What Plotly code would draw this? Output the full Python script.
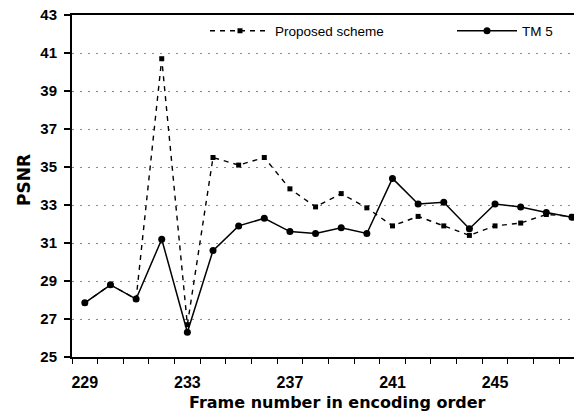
import plotly.graph_objects as go

frames = list(range(229, 249))
proposed = [27.85, 28.8, 28.05, 40.7, 26.7, 35.5, 35.1, 35.5, 33.85, 32.9,
            33.6, 32.85, 31.9, 32.4, 31.9, 31.4, 31.9, 32.05, 32.5, 32.4]
tm5 = [27.85, 28.8, 28.05, 31.2, 26.3, 30.6, 31.9, 32.3, 31.6, 31.5,
       31.8, 31.5, 34.4, 33.05, 33.15, 31.75, 33.05, 32.9, 32.6, 32.35]
x_tick_labels = [229, 233, 237, 241, 245]
y_ticks = list(range(25, 44, 2))

W, H = 574, 412
ML, MR, MT, MB = 72, 0, 15, 55
pw = W - ML - MR
ph = H - MT - MB

fig = go.Figure()
fig.add_trace(go.Scatter(
    x=frames, y=proposed, name="Proposed scheme", mode="lines+markers",
    line=dict(color="black", width=1.4, dash="5px,5px"),
    marker=dict(symbol="square", size=5, color="black"),
    legend="legend"))
fig.add_trace(go.Scatter(
    x=frames, y=tm5, name="TM 5", mode="lines+markers",
    line=dict(color="black", width=1.5),
    marker=dict(symbol="circle", size=7, color="black"),
    legend="legend2"))

leg_font = dict(family="Liberation Sans", size=13.5, color="black")
fig.update_layout(
    width=W, height=H,
    margin=dict(l=ML, r=MR, t=MT, b=MB, autoexpand=False),
    paper_bgcolor="white", plot_bgcolor="white",
    showlegend=True,
    legend=dict(x=(205 - ML) / pw, y=(H - MB - 31) / ph, xanchor="left", yanchor="middle",
                orientation="h", itemwidth=60, font=leg_font, bgcolor="rgba(0,0,0,0)"),
    legend2=dict(x=(452 - ML) / pw, y=(H - MB - 31) / ph, xanchor="left", yanchor="middle",
                 orientation="h", itemwidth=60, font=leg_font, bgcolor="rgba(0,0,0,0)"),
    xaxis=dict(
        range=[228.5, 248.08], showgrid=False, zeroline=False, automargin=False,
        showline=True, linecolor="black", linewidth=2, mirror=True,
        tickmode="array", tickvals=x_tick_labels, ticktext=[str(v) for v in x_tick_labels],
        ticks="", ticklabelstandoff=10,
        tickfont=dict(family="Liberation Sans", size=16, color="black", weight="bold"),
        minor=dict(tickmode="linear", tick0=228.5, dtick=1, ticks="outside",
                   ticklen=5, tickwidth=1, tickcolor="black", showgrid=False),
    ),
    yaxis=dict(
        range=[25, 43], tickmode="array", tickvals=y_ticks, automargin=False,
        showgrid=True, gridcolor="#8a8a8a", gridwidth=1, griddash="2px,6px",
        zeroline=False, showline=True, linecolor="black", linewidth=2, mirror=False,
        ticks="outside", ticklen=6, tickwidth=1.5, tickcolor="black",
        ticklabelstandoff=4,
        tickfont=dict(family="Liberation Sans", size=15, color="black", weight="bold"),
    ),
    annotations=[
        dict(text="Frame number in encoding order", xref="paper", yref="paper",
             x=(337 - ML) / pw, y=(H - MB - 402) / ph, xanchor="center", yanchor="middle",
             showarrow=False,
             font=dict(family="DejaVu Sans", size=16, color="black", weight="bold")),
        dict(text="PSNR", xref="paper", yref="paper", textangle=-90,
             x=(24 - ML) / pw, y=(H - MB - 180) / ph, xanchor="center", yanchor="middle",
             showarrow=False,
             font=dict(family="DejaVu Sans", size=17, color="black", weight="bold")),
    ],
)

fig.write_html("out.html", config={"displayModeBar": False},
               post_script="document.body.style.margin='0px';document.body.style.overflow='hidden';")
